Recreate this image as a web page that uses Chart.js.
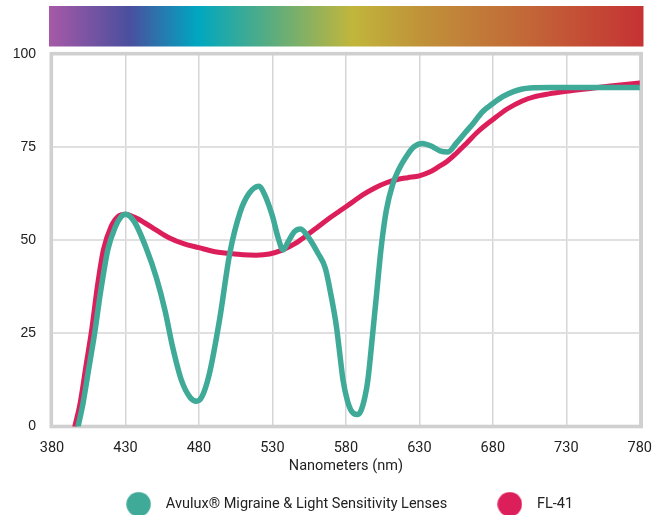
<!DOCTYPE html>
<html><head><meta charset="utf-8">
<script src="https://cdn.jsdelivr.net/npm/chart.js@4/dist/chart.umd.min.js"></script>
<style>html,body{margin:0;padding:0;background:#fff}canvas{display:block}</style>
</head><body>
<canvas id="c" width="665" height="515"></canvas>
<script>
// ---- data ----
const seriesNames = ['Avulux\u00AE Migraine & Light Sensitivity Lenses', 'FL-41'];
const avuluxNm  = [397.7,401,405,409,413,418,423,427,430,436,444,451,457,462,468,474,478.3,482,487,494,501,508,514,520.7,525,530,534,537.2,541,545,549,555,561,566,570,573.5,576,578,581,584,587.6,590,593,595,598,601,604,607.5,612,616,621,626,632,638,644,649.5,655,661,666.5,673,680,687,694,700,705,720,740,760,780];
const avuluxVal = [0,6,15.5,25,36,47.5,53.5,56.3,57,55,48,40,31,21.5,12.5,7.8,6.8,8,14,28.6,46.5,57.5,62.5,64.5,62,56.5,50.5,47.4,49.8,52.3,53,50.5,46.5,42.5,35,27,19,12.6,7,4,3.2,4,8,12.6,24,36,48,58,65.2,69,72.4,75,76,75.3,74,73.7,76,78.8,81.3,84.5,86.7,88.6,89.9,90.6,90.9,91,91,91,91];
const fl41Nm  = [395.5,399,403,407,411,415,420,425,430,436,443,451,460,470,480,490,500,510,519,528,537,545,553,560,568,576,584,592,600,608,615,622,630,637,643,649,655,662,670,680,690,700,708,718,730,745,760,770,780];
const fl41Val = [0,6,16,26,38,47.5,53.5,56.4,57,56.2,54.7,52.7,50.6,49,48,47,46.5,46.1,46,46.3,47.4,49,51.2,53.3,55.7,57.9,60.1,62.3,64.1,65.5,66.3,66.8,67.3,68.3,69.7,71.2,73.3,76,79.2,82.4,85.3,87.4,88.5,89.3,90,90.7,91.4,91.8,92.2];
const xTickValues = [380,430,480,530,580,630,680,730,780];
const yTickValues = [0,25,50,75,100];
const xTitle = 'Nanometers (nm)';

const TEAL = '#3faa98', CRIMSON = '#dc1e5a';

function dot(color){
  const c = document.createElement('canvas'); c.width = 25; c.height = 25;
  const g = c.getContext('2d'); g.fillStyle = color; g.beginPath(); g.arc(12.5,12.5,12.2,0,Math.PI*2); g.fill();
  return c;
}

const spectrum = {
  id: 'spectrum',
  beforeDraw(chart){
    const {ctx, chartArea:a} = chart;
    const x0 = a.left - 3, x1 = a.right + 3.7;
    const g = ctx.createLinearGradient(x0, 0, x1, 0);
    g.addColorStop(0.00, '#a659a7');
    g.addColorStop(0.135, '#4a4f9e');
    g.addColorStop(0.25, '#00a7c0');
    g.addColorStop(0.38, '#5fad7c');
    g.addColorStop(0.51, '#c1b63b');
    g.addColorStop(0.63, '#c09139');
    g.addColorStop(0.78, '#c26d38');
    g.addColorStop(1.00, '#c53233');
    ctx.save(); ctx.fillStyle = g; ctx.fillRect(x0, 6, x1 - x0, 40.5); ctx.restore();
  }
};
const frame = {
  id: 'frame',
  beforeDatasetsDraw(chart){
    const {ctx, chartArea:a} = chart;
    ctx.save(); ctx.strokeStyle = '#d0d0d0'; ctx.lineWidth = 3.6;
    ctx.strokeRect(a.left - 0.7, a.top - 0.3, a.right - a.left + 2.1, a.bottom - a.top + 0.3);
    ctx.restore();
  }
};

const lbl = '#222';
new Chart(document.getElementById('c'), {
  type: 'line',
  data: {
    datasets: [
      { label: seriesNames[0], data: avuluxNm.map((x,i)=>({x, y: avuluxVal[i]})), borderColor: TEAL, backgroundColor: TEAL, borderWidth: 5.5, pointRadius: 0, cubicInterpolationMode: 'monotone', fill: false, borderCapStyle: 'round', borderJoinStyle: 'round' },
      { label: seriesNames[1], data: fl41Nm.map((x,i)=>({x, y: fl41Val[i]})), borderColor: CRIMSON, backgroundColor: CRIMSON, borderWidth: 5, pointRadius: 0, cubicInterpolationMode: 'monotone', fill: false, borderCapStyle: 'round', borderJoinStyle: 'round' }
    ]
  },
  options: {
    responsive: false, animation: false, devicePixelRatio: 1,
    layout: { padding: { top: 54, left: 12, right: 23, bottom: 0 } },
    plugins: {
      tooltip: { enabled: false },
      legend: {
        position: 'bottom', fullSize: false, maxHeight: 60.5,
        labels: {
          usePointStyle: true, pointStyleWidth: 40, padding: 42.5, color: lbl,
          font: { family: 'Roboto', size: 14.5 },
          generateLabels(chart){
            return chart.data.datasets.map((ds, i) => ({ text: ds.label, fillStyle: ds.borderColor, strokeStyle: ds.borderColor, lineWidth: 0, pointStyle: dot(ds.borderColor), datasetIndex: i, hidden: false, fontColor: lbl }));
          }
        }
      }
    },
    scales: {
      x: {
        type: 'linear', min: 380, max: 780,
        afterBuildTicks(s){ s.ticks = xTickValues.map(v => ({ value: v })); },
        afterFit(s){ s.height = 28; },
        grid: { color: '#d6d6d6', lineWidth: 1.5, drawTicks: false },
        border: { display: false },
        ticks: { padding: 13, color: lbl, font: { family: 'Roboto', size: 14.5 }, maxRotation: 0, autoSkip: false },
        title: { display: true, text: xTitle, color: lbl, font: { family: 'Roboto', size: 14.5 }, padding: { top: 0, bottom: -20.2 } }
      },
      y: {
        min: 0, max: 100,
        afterBuildTicks(s){ s.ticks = yTickValues.map(v => ({ value: v })); },
        afterFit(s){ s.width = 40; },
        grid: { color: '#e0e0e0', lineWidth: 2, drawTicks: false },
        border: { display: false },
        ticks: { padding: 16, color: lbl, font: { family: 'Liberation Sans', size: 14 } }
      }
    }
  },
  plugins: [spectrum, frame]
});
</script>
</body></html>
